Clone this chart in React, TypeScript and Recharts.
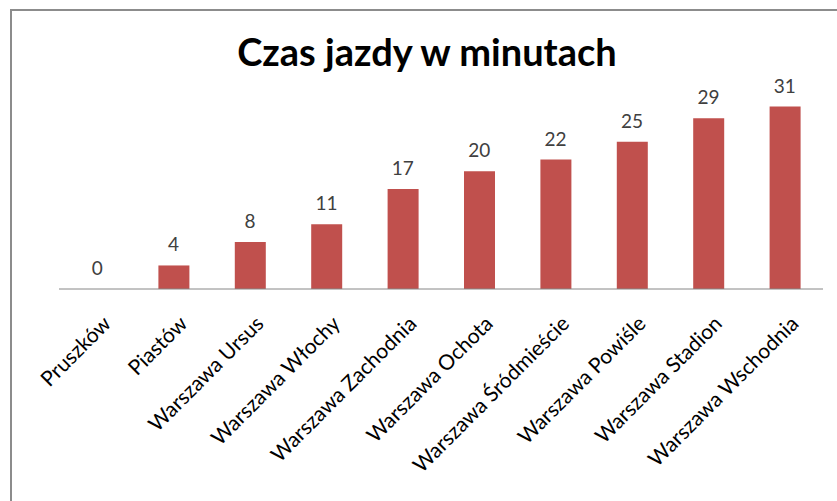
import React from "react";
import { ComposedChart, Bar, Line, XAxis, YAxis, LabelList } from "recharts";

const categories = [
  "Pruszków",
  "Piastów",
  "Warszawa Ursus",
  "Warszawa Włochy",
  "Warszawa Zachodnia",
  "Warszawa Ochota",
  "Warszawa Śródmieście",
  "Warszawa Powiśle",
  "Warszawa Stadion",
  "Warszawa Wschodnia",
];
const minutes = [0, 4, 8, 11, 17, 20, 22, 25, 29, 31];
const title = "Czas jazdy w minutach";

const data = categories.map((name, i) => ({ name, value: minutes[i] }));

const FONT = "Lato, 'Open Sans', sans-serif";

const Tick = (props: any) => {
  const { x, y, payload } = props;
  return (
    <g transform={`translate(${x + 15},${y + 28})`}>
      <text
        x={0}
        y={0}
        textAnchor="end"
        transform="rotate(-45)"
        fontSize={21}
        fontFamily={FONT}
        fill="#000"
      >
        {payload.value}
      </text>
    </g>
  );
};

export default function App() {
  return (
    <div style={{ position: "absolute", left: 0, top: 0, width: 837, height: 501, overflow: "hidden", background: "#fff" }}>
      <div
        style={{
          position: "absolute",
          left: 10,
          top: 9,
          width: 840,
          height: 520,
          border: "2px solid #8c8c8c",
          boxSizing: "border-box",
        }}
      />
      <div
        style={{
          position: "absolute",
          left: 0,
          top: 28,
          width: 854,
          textAlign: "center",
          fontFamily: FONT,
          fontWeight: 700,
          fontSize: 38,
          color: "#000",
        }}
      >
        {title}
      </div>
      <div style={{ position: "absolute", left: 0, top: 0 }}>
        <ComposedChart
          width={837}
          height={501}
          data={data}
          margin={{ top: 83, left: 59, right: 14, bottom: 182 }}
        >
          <YAxis hide domain={[0, 35]} />
          <XAxis
            dataKey="name"
            axisLine={{ stroke: "#868686", strokeWidth: 1 }}
            tickLine={false}
            interval={0}
            tick={<Tick />}
          />
          <Bar dataKey="value" fill="#C0504D" barSize={31} isAnimationActive={false} />
          <Line
            dataKey="value"
            stroke="none"
            dot={false}
            activeDot={false}
            isAnimationActive={false}
          >
            <LabelList
              dataKey="value"
              position="top"
              offset={14}
              fontSize={19}
              fontFamily={FONT}
              fill="#404040"
            />
          </Line>
        </ComposedChart>
      </div>
    </div>
  );
}
